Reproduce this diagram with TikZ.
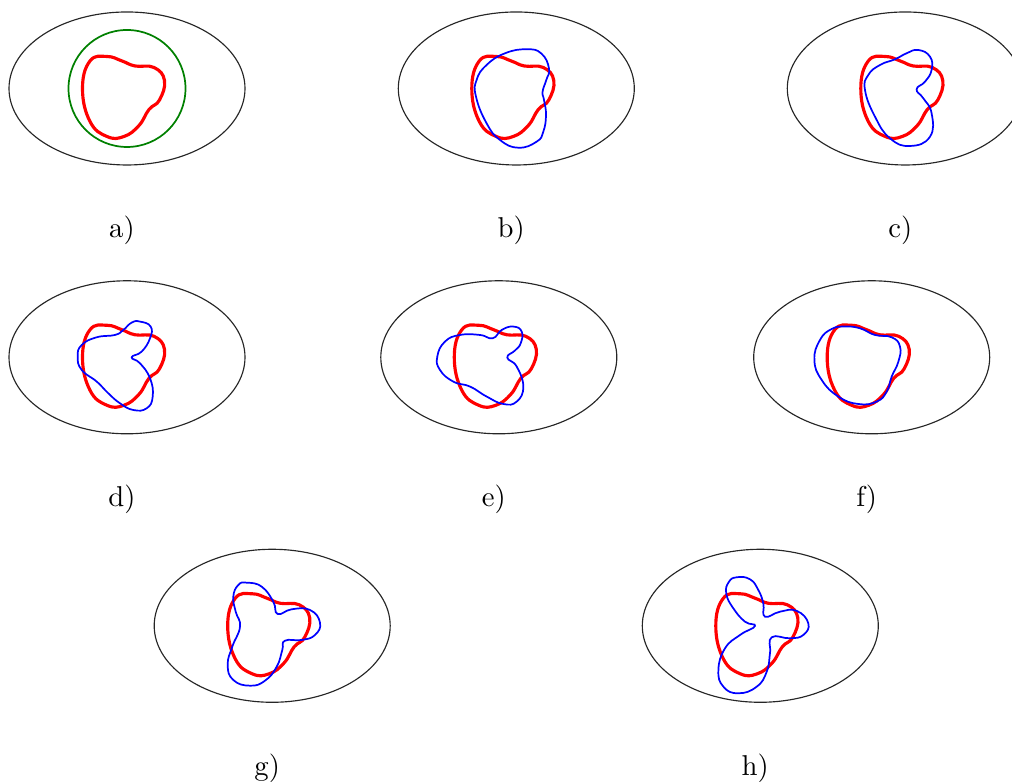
\documentclass[tikz,border=0pt]{standalone}
\usepackage{tikz}

\newcommand{\targetcurve}{plot[smooth cycle, tension=0.75] coordinates {
  (-44.5,0) (-37,27.5) (-20,32) (-5,27.5) (8,22.5) (27,21) (37.5,8)
  (32.5,-11.5) (22,-21) (12,-37) (-3,-48) (-20,-48) (-37,-33)}}

\begin{document}
\begin{tikzpicture}[
  x=0.3484pt, y=0.3484pt,
  region/.style={black!85, line width=0.4pt},
  target/.style={red, line width=1.1pt},
  iter/.style={blue, line width=0.6pt},
  init/.style={green!50!black, line width=0.6pt},
  lbl/.style={anchor=base},
]
\useasboundingbox (0,0) rectangle (1012,782);

%% domains, target curve and labels
\foreach \p/\x/\y in {a/127/693.5, b/516.3/693.5, c/905.3/693.5,
                      d/127/424.7, e/498.8/424.7, f/871.7/424.7,
                      g/272.2/156.2, h/760.3/156.2} {
  \coordinate (c\p) at (\x,\y);
  \draw[region] (c\p) ellipse [x radius=118, y radius=76.5];
  \begin{scope}[shift={(c\p)}]
    \draw[target] \targetcurve;
  \end{scope}
  \node[lbl] (lbl\p) at (\x-5,\y-149.5) {\p)};
}

%% a) initial guess
\draw[init] (ca) circle [radius=58.5];

%% b)
\begin{scope}[shift={(cb)}]
\draw[iter] plot[smooth cycle, tension=0.8] coordinates {
  (10.3,39.2) (25,35) (32.7,20) (30,8.5) (26.3,-3.2) (27.7,-11.5)
  (29.7,-26.5) (27,-43.2) (20.3,-53.2) (2,-59.2) (-16.3,-51.5)
  (-29.7,-34.8) (-40.3,-8.2) (-39.7,8.5) (-29.7,23.5) (-11.3,35.2)};
\end{scope}

%% c)
\begin{scope}[shift={(cc)}]
\draw[iter] plot[smooth cycle, tension=0.8] coordinates {
  (13,38.5) (24.7,31.8) (26.3,18.5) (19.7,6.8) (11.3,-0.8) (18,-9.8)
  (26.3,-24.8) (24.7,-48.2) (4.7,-57.5) (-15.3,-49.8) (-30.3,-28.2)
  (-40.3,-1.5) (-37,13.5) (-25.3,23.5) (-10.3,29.2) (1.3,35.2)};
\end{scope}

%% d)
\begin{scope}[shift={(cd)}]
\draw[iter] plot[smooth cycle, tension=0.8] coordinates {
  (13,35.7) (23.7,30.7) (23,19) (14.7,5.7) (4.7,0) (13,-6) (23,-21)
  (25.7,-39.3) (19.7,-51) (6.3,-52.7) (-7,-46) (-18.7,-36) (-30.3,-24.3)
  (-45.3,-12.7) (-49.3,0.7) (-45.3,12.3) (-30.3,20) (-12,22.3)
  (-3.7,27.3) (4.7,34.7)};
\end{scope}

%% e)
\begin{scope}[shift={(ce)}]
\draw[iter] plot[smooth cycle, tension=0.8] coordinates {
  (14.5,30.7) (22.9,25.7) (21.9,14) (16.1,6.7) (8.5,-0.3) (17.9,-9.3)
  (24.5,-29.3) (17.9,-44.3) (4.5,-46.7) (-12.1,-39.3) (-28.8,-29.3)
  (-45.5,-24.3) (-58.8,-12.7) (-61.5,0.7) (-53.8,15.7) (-38.8,22.3)
  (-18.8,22.3) (-6.1,19) (2.9,27.3)};
\end{scope}

%% f)
\begin{scope}[shift={(cf)}]
\draw[iter] plot[smooth cycle, tension=0.8] coordinates {
  (-26.7,30.7) (-11.7,29) (3.3,22.3) (20,20) (28.3,10.7) (26.7,-4.3)
  (20,-19.3) (15,-34.3) (5,-44.3) (-13.3,-46.7) (-33.3,-39.3)
  (-50,-22.7) (-57.3,-2.7) (-51.7,17.3) (-40,28.3)};
\end{scope}

%% g)
\begin{scope}[shift={(cg)}]
\draw[iter] plot[smooth cycle, tension=0.8] coordinates {
  (-25.5,43.1) (-10.5,39.1) (1.1,24.1) (5.5,11.8) (19.5,16.5)
  (37.8,15.8) (47.8,3.1) (42.8,-9.2) (29.5,-14.2) (12.8,-14.9)
  (10.1,-24.2) (4.5,-40.9) (-7.2,-54.9) (-22.2,-59.9) (-38.9,-54.2)
  (-44.5,-39.2) (-39.9,-20.9) (-32.2,-0.9) (-36.5,14.1) (-38.9,29.1)
  (-33.9,40.8)};
\end{scope}

%% h)
\begin{scope}[shift={(ch)}]
\draw[iter] plot[smooth cycle, tension=0.8] coordinates {
  (-5.3,-0.2) (-15.3,4.1) (-27,17.5) (-34,32) (-31.6,43.6) (-23.6,48.5)
  (-10.3,46.5) (-2,35.8) (3,22.5) (4.7,9.1) (19.7,14.1) (36.4,14.9)
  (48,2.5) (43,-9.2) (29.7,-12.5) (11.4,-11.5) (9.7,-27.5) (6.4,-45.9)
  (-3.6,-60.9) (-22,-67.5) (-36.9,-60.9) (-41.9,-44.2) (-35.3,-22.6)
  (-20.3,-9.2)};
\end{scope}

\end{tikzpicture}
\end{document}
